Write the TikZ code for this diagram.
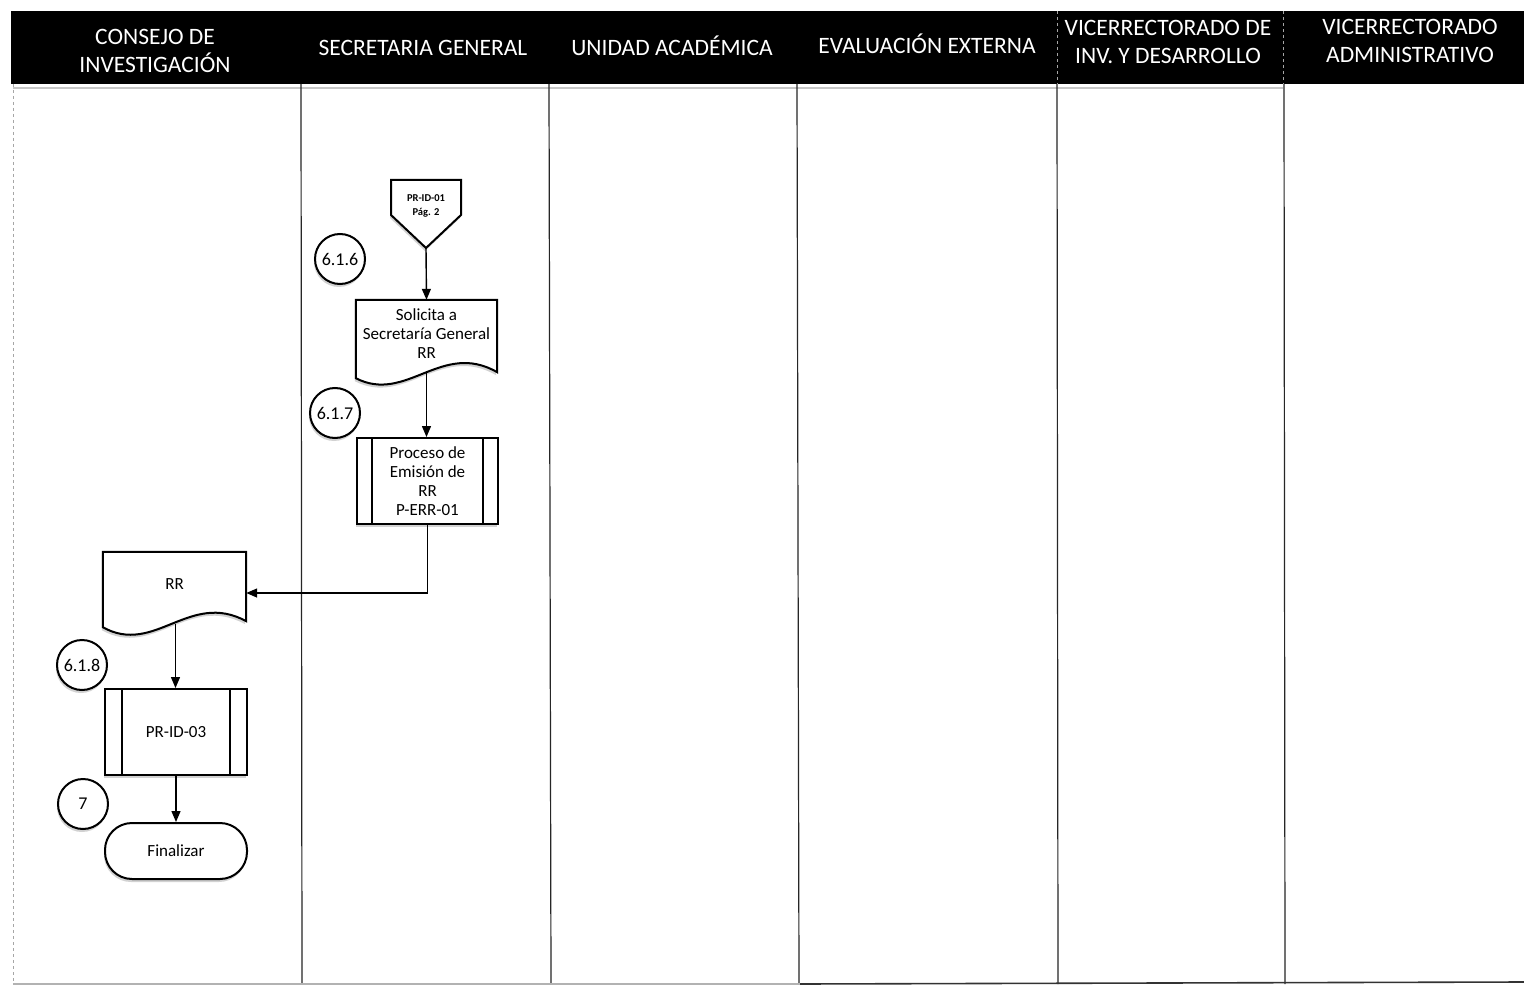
\documentclass[tikz,border=0pt]{standalone}
\usepackage{fontspec}
\setmainfont{Carlito}
\usetikzlibrary{arrows.meta,shadows,calc}

\begin{document}
\begin{tikzpicture}[x=1pt,y=-1pt,
  hdr/.style={text=white, font=\fontsize{23.5}{28.5}\selectfont, align=center, inner sep=0pt},
  lane/.style={line width=1.2pt, black!85},
  flow/.style={line width=1.4pt, -{Triangle[length=11pt,width=9pt]}},
  outline/.style={line width=2pt, draw=black, fill=white},
  txt/.style={font=\fontsize{17}{19}\selectfont, align=center, inner sep=0pt},
  stepnum/.style={circle, draw, line width=2pt, minimum size=50pt, inner sep=0pt,
                  font=\fontsize{18}{20}\selectfont, fill=white, shd},
  shd/.style={drop shadow={opacity=0.35, shadow xshift=-1pt, shadow yshift=-3pt}}
]
% canvas
\useasboundingbox (0,0) rectangle (1524,987);
\fill[white] (0,0) rectangle (1524,987);

% header band
\fill[black] (11,11) rectangle (1524,84);
\draw[gray!70, dashed, line width=0.8pt] (1057,11) -- (1057,84);
\draw[gray!70, dashed, line width=0.8pt] (1283,11) -- (1283,84);

\node[hdr] (h1) at (155,51) {CONSEJO DE\\INVESTIGACIÓN};
\node[hdr] (h2) at (423,48) {SECRETARIA GENERAL};
\node[hdr] (h3) at (672,46) {UNIDAD ACADÉMICA};
\node[hdr] (h4) at (927,44) {EVALUACIÓN EXTERNA};
\node[hdr] (h5) at (1168,42) {VICERRECTORADO DE\\INV. Y DESARROLLO};
\node[hdr] (h6) at (1410,41) {VICERRECTORADO\\ADMINISTRATIVO};

% swimlane borders
\draw[gray!45, line width=1.2pt] (13,88) -- (1283,88);
\draw[gray!70, dashed, line width=0.9pt] (13,84) -- (13,984);
\draw[lane] (301,84) -- (302,984);
\draw[lane] (549,84) -- (551,984);
\draw[lane] (797,84) -- (799,984);
\draw[lane] (1057,84) -- (1058,984);
\draw[lane] (1284,84) -- (1285,984);
\draw[gray!60, line width=1.2pt] (13,984) -- (800,984);
\draw[black!80, line width=1.6pt] (800,984) -- (1524,982);

% off-page connector
\coordinate (offtip) at (426,248);
\path[outline, shd] (391,180) -- (461,180) -- (461,215) -- (offtip) -- (391,215) -- cycle;
\node[font=\fontsize{10.5}{14}\selectfont\bfseries, align=center, inner sep=0pt] (off) at (426,206) {PR-ID-01\\Pág. 2};

% document: request to Secretaria General
\node[txt, minimum width=141pt, minimum height=68pt] (doc1) at (426.5,334) {};
\path[outline, shd] (doc1.north west) -- (doc1.north east) -- ($(doc1.south east)+(0,4)$)
  .. controls ($(doc1.south)+(15,-28)$) and ($(doc1.south)+(-20,36)$) .. ($(doc1.south west)+(0,10)$) -- cycle;
\node[txt] (doc1t) at (doc1.center) {Solicita a\\Secretaría General\\RR};
\coordinate (doc1b) at ($(doc1.south)+(0,5)$);

% predefined process: P-ERR-01
\node[txt, outline, shd, minimum width=141pt, minimum height=86pt] (pp1) at (427.5,481) {Proceso de\\Emisión de\\RR\\P-ERR-01};
\draw[line width=2pt] ($(pp1.north)+(-55.5,0)$) -- ($(pp1.south)+(-55.5,0)$);
\draw[line width=2pt] ($(pp1.north)+(55.5,0)$) -- ($(pp1.south)+(55.5,0)$);

% document: RR
\node[txt, minimum width=143pt, minimum height=64pt] (doc2) at (174.5,584) {};
\path[outline, shd] (doc2.north west) -- (doc2.north east) -- ($(doc2.south east)+(0,5)$)
  .. controls ($(doc2.south)+(15,-26)$) and ($(doc2.south)+(-20,40)$) .. ($(doc2.south west)+(0,11)$) -- cycle;
\node[txt] (doc2t) at (doc2.center) {RR};
\coordinate (doc2b) at ($(doc2.south)+(1,8)$);

% predefined process: PR-ID-03
\node[txt, outline, shd, minimum width=142pt, minimum height=86pt] (pp2) at (176,732) {PR-ID-03};
\draw[line width=2pt] ($(pp2.north)+(-54,0)$) -- ($(pp2.south)+(-54,0)$);
\draw[line width=2pt] ($(pp2.north)+(54,0)$) -- ($(pp2.south)+(54,0)$);

% terminator
\node[txt, outline, shd, rounded corners=27pt, minimum width=142pt, minimum height=56pt] (term) at (176,851) {Finalizar};

% step numbers
\node[stepnum] (c616) at (340,259) {6.1.6};
\node[stepnum] (c617) at (335,413) {6.1.7};
\node[stepnum] (c618) at (82,665) {6.1.8};
\node[stepnum] (c7) at (83,804) {7};

% connectors
\draw[flow] (offtip) -- (doc1.north);
\draw[flow] (doc1b) -- (doc1b |- pp1.north);
\draw[flow] (pp1.south) |- ($(doc2.east)+(0,9)$);
\draw[flow] (doc2b) -- (doc2b |- pp2.north);
\draw[flow] (pp2.south) -- (term.north);
\end{tikzpicture}
\end{document}
